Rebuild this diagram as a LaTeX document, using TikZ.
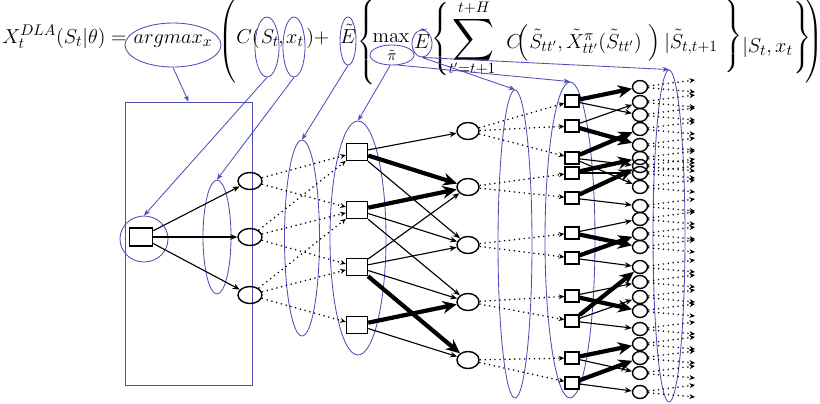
\documentclass[tikz,border=0pt]{standalone}
\usepackage{amsmath}
\usetikzlibrary{arrows.meta,shapes.geometric}

\newdimen\pxu \pxu=0.025cm
\definecolor{markblue}{RGB}{78,78,182}
\newcommand\fdelim[2]{$\left#1\vrule height #2\pxu depth #2\pxu width 0pt\right.$}
\newcommand\rdelim[2]{$\left.\vrule height #2\pxu depth #2\pxu width 0pt\right#1$}

\tikzset{
  eqtxt/.style={inner sep=0pt, font=\fontsize{15}{18}\selectfont},
  hiell/.style 2 args={draw=markblue, line width=0.6pt, ellipse, inner sep=0pt, minimum width=#1\pxu, minimum height=#2\pxu},
  hiarr/.style={draw=markblue, line width=0.6pt, -{Stealth[length=4.5pt,width=3.5pt]}},
  decsq/.style 2 args={draw, line width=1pt, rectangle, inner sep=0pt, minimum width=#1\pxu, minimum height=#2\pxu},
  outc/.style 2 args={draw, line width=1pt, ellipse, inner sep=0pt, minimum width=#1\pxu, minimum height=#2\pxu},
  thinarr/.style={line width=0.8pt, -{Stealth[length=5pt,width=4pt]}},
  thickarr/.style={line width=3pt, -{Stealth[length=10pt,width=9pt]}},
  dotarr/.style={line width=0.9pt, dash pattern=on 0.9pt off 2.6pt, -{Stealth[length=4pt,width=3.5pt]}}
}

\begin{document}
\begin{tikzpicture}[x=0.025cm, y=-0.025cm]
\useasboundingbox (0,0) rectangle (820,403);

% formula
\node[eqtxt, anchor=base west] (fX) at (2,43) {$X_t^{DLA}(S_t|\theta) =$};
\node[eqtxt, anchor=base] (fArg) at (173,43) {$argmax_x$};
\node[eqtxt] (fP1) at (228,41) {\fdelim({36}};
\node[eqtxt, anchor=base west] (fC1) at (236,43) {$C($};
\node[eqtxt, anchor=base] (fS) at (270,43) {$S_t$};
\node[eqtxt, anchor=base] (fComma) at (281,43) {$,$};
\node[eqtxt, anchor=base] (fx) at (295,43) {$x_t$};
\node[eqtxt, anchor=base west] (fPlus) at (306,43) {$)+$};
\node[eqtxt, anchor=base] (fE1) at (348,43) {$\tilde E$};
\node[eqtxt] (fB1) at (367,42) {\fdelim\{{35}};
\node[eqtxt, anchor=base] (fMax) at (391,42) {$\max$};
\node[eqtxt] (fPi) at (392,55) {$\scriptstyle\tilde\pi$};
\node[eqtxt, anchor=base] (fE2) at (422,48) {$\tilde E$};
\node[eqtxt] (fB2) at (441,40) {\fdelim\{{33}};
\node[inner sep=0pt, font=\fontsize{22}{26}\selectfont] (fSum) at (474,40) {$\displaystyle\sum$};
\node[eqtxt] (fUp) at (474,8) {$\scriptstyle t+H$};
\node[eqtxt] (fLo) at (472,69) {$\scriptstyle t'=t+1$};
\node[eqtxt, anchor=base west] (fC2) at (506,48) {$C$};
\node[eqtxt] (fP2) at (523,43) {\fdelim({13}};
\node[eqtxt, anchor=base west] (fIn) at (529,48) {$\tilde S_{tt'}, \tilde X^{\pi}_{tt'}(\tilde S_{tt'})$};
\node[eqtxt] (fP3) at (654,43) {\rdelim){13}};
\node[eqtxt, anchor=base west] (fCond) at (664,48) {$|\tilde S_{t,t+1}$};
\node[eqtxt] (fB3) at (733,36) {\rdelim\}{30}};
\node[eqtxt, anchor=base west] (fCond2) at (742,52) {$|S_t, x_t$};
\node[eqtxt] (fB4) at (802,38) {\rdelim\}{32}};
\node[eqtxt] (fP4) at (813,41) {\rdelim){36}};

% blue marks on the formula
\node[hiell={96}{44}] (eArg) at (173,45) {};
\node[hiell={24}{60}] (eS) at (267,47) {};
\node[hiell={22}{60}] (eX) at (294,47) {};
\node[hiell={16}{48}] (eE1) at (348,41) {};
\node[hiell={44}{20}] (ePi) at (392,55) {};
\node[hiell={20}{27}] (eE2) at (422,43.5) {};

% blue marks on the tree
\node[draw=markblue, line width=0.6pt, inner sep=0pt, minimum width=127\pxu, minimum height=283\pxu] (box) at (188.5,243.5) {};
\node[hiell={48}{46}] (eRoot) at (144,239) {};
\node[hiell={28}{114}] (eDec1) at (217,237) {};
\node[hiell={35}{196}] (eOut1) at (302,238) {};
\node[hiell={56}{234}] (eDec2) at (358,238) {};
\node[hiell={34}{308}] (eOut2) at (515,244) {};
\node[hiell={50}{316}] (eDec3) at (570,240) {};
\node[hiell={32}{332}] (eOut3) at (669,236) {};

\draw[hiarr] (eArg.south) -- (box.north);
\draw[hiarr] (eS.south) -- (eRoot.north);
\draw[hiarr] (eX.south) -- (eDec1.north);
\draw[hiarr] (eE1.south) -- (eOut1.north);
\draw[hiarr] (ePi.260) -- (eDec2.north);
\draw[hiarr] (ePi.300) -- (eDec3.north);
\draw[hiarr] (eE2.south) -- (eOut2.north);
\draw[hiarr] (eE2.south) -- (eOut3.north);

% tree nodes
\node[decsq={23}{18}] (sq0) at (141,237) {};
\foreach \n/\y in {1/181,2/237,3/295}
  \node[outc={24}{17}] (a\n) at (250,\y) {};
\foreach \n/\y in {1/152,2/210,3/267,4/325}
  \node[decsq={21}{17}] (b\n) at (357,\y) {};
\foreach \n/\y in {1/131,2/187,3/245,4/302,5/360}
  \node[outc={22}{17}] (c\n) at (468,\y) {};
\foreach \n/\y in {1/101,2/126,3/158,4/173,5/198,6/233,7/258,8/296,9/321,10/358,11/383}
  \node[decsq={14}{12}] (d\n) at (572,\y) {};
\foreach \n/\y in {1/87,2/102,3/115,4/129,5/145,6/158,7/166,8/173,9/187,10/206,11/219,
                   12/234,13/247,14/267,15/282,16/297,17/311,18/329,19/344,20/358,21/373,22/392}
  \node[outc={15}{13}] (f\n) at (640,\y) {};

% connectors
\foreach \i in {1,2,3}
  \draw[thinarr] (sq0) -- (a\i);
\foreach \s/\t in {1/1,1/2,2/1,2/2,2/3,3/2,3/3,3/4}
  \draw[dotarr] (a\s) -- (b\t);
\foreach \s/\t in {1/1,1/3,2/3,2/4,3/2,3/3,3/4,4/5}
  \draw[thinarr] (b\s) -- (c\t);
\foreach \s/\t in {1/2,2/2,3/5,4/4}
  \draw[thickarr] (b\s) -- (c\t);
\foreach \s/\t in {1/1,1/2,1/3,2/4,2/5,3/6,3/7,4/8,4/9,5/10,5/11}
  \draw[dotarr] (c\s) -- (d\t);
\foreach \s/\t in {1/3,2/2,3/7,3/9,4/8,5/10,6/11,7/14,8/15,9/16,9/18,10/21,11/22}
  \draw[thinarr] (d\s) -- (f\t);
\foreach \s/\t in {1/1,2/5,3/4,4/6,5/7,6/13,7/12,8/17,9/14,10/19,11/20}
  \draw[thickarr] (d\s) -- (f\t);
\foreach \n/\y in {1/87,2/102,3/115,4/129,5/145,6/158,7/166,8/173,9/187,10/206,11/219,
                   12/234,13/247,14/267,15/282,16/297,17/311,18/329,19/344,20/358,21/373,22/392} {
  \coordinate (g\n-u) at (695,\y-7);
  \coordinate (g\n-l) at (695,\y+5);
  \draw[dotarr] (f\n) -- (g\n-u);
  \draw[dotarr] (f\n) -- (g\n-l);
}

\end{tikzpicture}
\end{document}
